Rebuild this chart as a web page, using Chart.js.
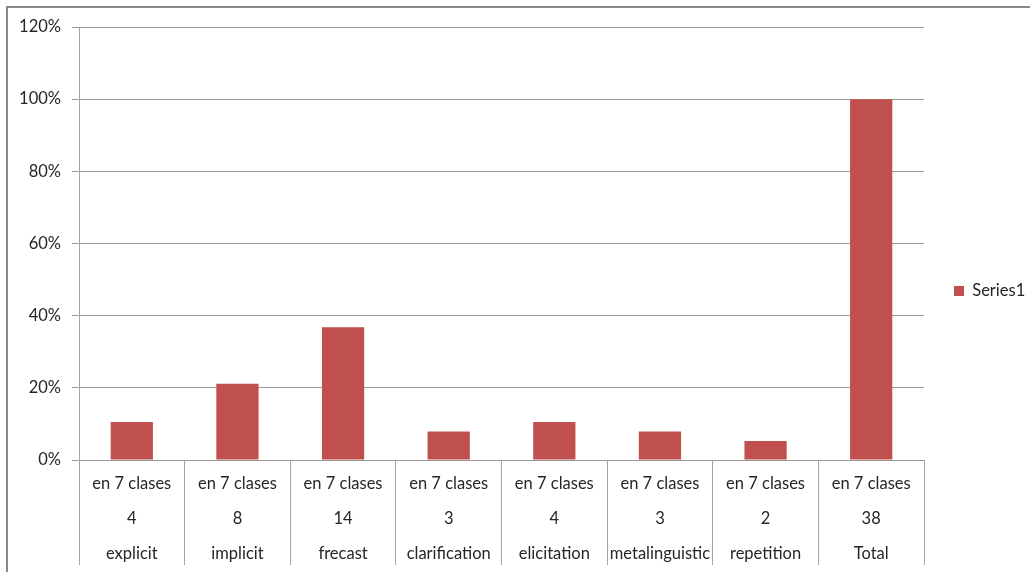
<!DOCTYPE html>
<html>
<head>
<meta charset="utf-8">
<script src="https://cdn.jsdelivr.net/npm/chart.js@4"></script>
<style>
  html, body { margin: 0; padding: 0; background: #fff; overflow: hidden; }
  #wrap { position: relative; width: 1030px; height: 572px; }
  #frame { position: absolute; left: 6px; top: 6px; width: 1100px; height: 700px;
           border-left: 2px solid #8a8a8a; border-top: 2px solid #8a8a8a; pointer-events: none; }
  canvas { position: absolute; left: 0; top: 0; }
</style>
</head>
<body>
<div id="wrap">
  <canvas id="c" width="1030" height="572"></canvas>
  <div id="frame"></div>
</div>
<script>
const categories = ['explicit', 'implicit', 'frecast', 'clarification', 'elicitation', 'metalinguistic', 'repetition', 'Total'];
const counts = ['4', '8', '14', '3', '4', '3', '2', '38'];
const groupLabel = 'en 7 clases';
const series1 = [0.105, 0.211, 0.368, 0.079, 0.105, 0.079, 0.053, 1.0];
const yTicks = [0, 0.2, 0.4, 0.6, 0.8, 1.0, 1.2];

const labels = categories.map((c, i) => [groupLabel, counts[i], c]);
const FONT = 'Lato, "Open Sans", "DejaVu Sans", sans-serif';
const TXT = '#262626';
const FS = 16.5;

new Chart(document.getElementById('c'), {
  type: 'bar',
  data: {
    labels: labels,
    datasets: [{
      label: 'Series1',
      data: series1,
      backgroundColor: '#C0504D',
      borderWidth: 0,
      categoryPercentage: 1.0,
      barPercentage: 0.4
    }]
  },
  options: {
    responsive: false,
    animation: false,
    layout: { padding: { left: 0, top: 10, right: 0, bottom: 0 } },
    plugins: {
      tooltip: { enabled: false },
      title: { display: true, text: '', font: { size: 10, lineHeight: 1 }, padding: { top: 7, bottom: 0 } },
      legend: {
        position: 'right',
        maxWidth: 106,
        labels: {
          boxWidth: 10, boxHeight: 10, padding: 30,
          color: TXT,
          font: { family: FONT, size: FS }
        }
      }
    },
    scales: {
      x: {
        offset: true,
        grid: {
          display: true, offset: true, drawOnChartArea: false, drawTicks: true,
          tickLength: 105, color: '#a6a6a6', lineWidth: 1
        },
        border: { display: true, color: '#999999' },
        ticks: {
          autoSkip: false, maxRotation: 0, minRotation: 0,
          padding: -98.5, color: TXT,
          font: { family: FONT, size: FS, lineHeight: 35 / FS }
        },
        afterFit: (s) => { s.height = 112; }
      },
      y: {
        min: 0, max: 1.2,
        afterBuildTicks: (s) => { s.ticks = yTicks.map(v => ({ value: v })); },
        grid: { color: '#999999', tickLength: 7, lineWidth: 1 },
        border: { display: true, color: '#a6a6a6' },
        ticks: {
          padding: 11, color: TXT,
          font: { family: FONT, size: FS },
          callback: (v) => Math.round(v * 100) + '%'
        },
        afterFit: (s) => { s.width = 79; }
      }
    }
  }
});
</script>
</body>
</html>
